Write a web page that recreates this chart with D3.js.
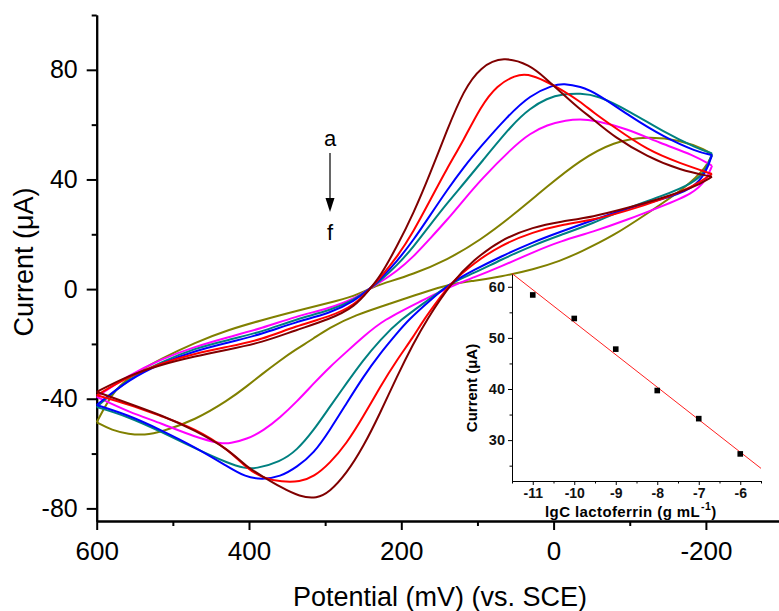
<!DOCTYPE html>
<html>
<head>
<meta charset="utf-8">
<script src="https://cdn.jsdelivr.net/npm/d3@7"></script>
<style>
  body { margin: 0; background: #fff; }
  svg { display: block; font-family: Arial, "Liberation Sans", sans-serif; }
</style>
</head>
<body>
<svg id="chart" width="779" height="611"></svg>
<script>
// CV loops, [potential (mV), current (uA)], anodic branch then back
const curveA = [[600,-37.5],[558,-31.5],[515,-27.5],[471,-24.5],[427,-22],[383,-19.5],[339,-15],[294,-11],[261,-6.5],[241,0.2],[228,4.5],[206,15.4],[184,27.6],[162,42.2],[140,58],[118,72.6],[96,81.1],[66,85],[31,81.8],[11,77],[-9,72],[-35,65.5],[-52,62],[-79,55.6],[-123,48.3],[-166,43.4],[-208,41],
  [-184,37],[-140,33],[-96,29.5],[-52,26.4],[-9,24.6],[26,22.7],[70,18],[105,10.6],[134,2.5],[167,-11.3],[184,-19.8],[206,-32],[228,-45.4],[250,-57.6],[272,-67.3],[294,-74],[311,-76.4],[333,-75.8],[359,-72.2],[381,-68.5],[403,-64.9],[427,-58.5],[471,-51.5],[515,-46],[558,-41.7],[600,-37.5]];
const curveB = [[600,-38.7],[558,-31.8],[515,-27],[471,-23.5],[427,-21],[383,-18.4],[339,-13.5],[294,-10.1],[261,-5.8],[241,0.2],[228,4],[206,11.5],[184,21],[162,32.5],[140,44],[118,54.4],[96,66.5],[74,74.5],[50,78],[35,78.7],[9,75.7],[-9,73],[-35,68.4],[-52,64.5],[-79,59.2],[-123,50.7],[-166,45.9],[-208,42],
  [-184,37.5],[-140,32.5],[-96,28.5],[-52,25.2],[-9,23.4],[26,20.9],[70,16],[105,9.4],[134,2.5],[149,-3],[171,-11.3],[184,-17.4],[206,-25.9],[228,-35.7],[250,-46.6],[272,-56.4],[294,-63.6],[315,-68.5],[333,-70.3],[357,-70.3],[381,-69.1],[403,-65.4],[427,-58.5],[471,-50.8],[515,-46.4],[558,-42],[600,-38.7]];
const curveC = [[600,-42.3],[558,-33],[515,-27],[471,-22.5],[427,-19.5],[383,-16.4],[339,-12],[294,-8.9],[261,-4.3],[241,0.2],[228,3.5],[206,10],[184,17.9],[162,27],[140,36.1],[118,44.5],[96,51.9],[61,62.9],[31,70.8],[0,74.5],[-13,75],[-35,74],[-57,71.4],[-101,62.9],[-144,55.6],[-188,50.1],[-208,48.9],
  [-201,43],[-184,36.5],[-140,32.5],[-96,29.5],[-52,25.2],[-9,20.9],[26,17.3],[70,11.8],[105,6.9],[134,2.5],[162,-4],[191,-11.3],[206,-16.2],[228,-23.5],[250,-32],[272,-41.7],[294,-51.5],[315,-60],[337,-64.9],[359,-68.5],[383,-69.5],[405,-68.5],[427,-64.9],[471,-57.6],[515,-51.5],[558,-46],[600,-42.3]];
const curveD = [[600,-43],[558,-32.6],[515,-26.5],[471,-21.6],[427,-18.5],[383,-15.6],[339,-11],[294,-7.9],[261,-3.8],[241,0.2],[228,3],[206,8.5],[184,15.4],[162,23.5],[140,31.3],[118,38.5],[96,45.9],[53,60.5],[31,65.9],[9,69.6],[-13,71.2],[-35,71.4],[-57,70.8],[-101,64.7],[-144,57.4],[-188,51.4],[-208,49.5],
  [-201,43.5],[-184,38.6],[-140,33.7],[-96,29.5],[-52,24],[-9,19.7],[26,16.1],[70,10.6],[105,5.7],[134,2.5],[162,-3.5],[202,-11.3],[228,-18.6],[250,-25.9],[272,-34.4],[294,-43],[315,-51.5],[337,-58.8],[359,-63],[392,-65.6],[405,-65.4],[427,-63.6],[471,-58.1],[515,-52.1],[558,-46.6],[600,-43]];
const curveE = [[600,-39.3],[558,-31.4],[515,-25.5],[471,-21],[427,-17.5],[383,-14.3],[339,-10],[294,-7],[261,-3.4],[241,0.2],[228,2.5],[206,6.5],[184,11.8],[162,18.5],[140,25.2],[118,32.5],[96,39.8],[53,51.9],[31,56.8],[9,59.9],[-17,61.7],[-35,62],[-52,61.7],[-96,58.6],[-140,53.2],[-184,48.9],[-208,45],
  [-201,40],[-184,34.9],[-140,30],[-96,25.2],[-52,20.9],[-9,17.5],[26,13.6],[70,8.1],[105,4.2],[134,1.2],[175,-4.5],[224,-11.3],[250,-17.4],[272,-22.9],[294,-28.4],[315,-34.4],[337,-41],[359,-46.8],[381,-51.6],[403,-54.8],[425,-56.3],[436,-56.5],[471,-54],[515,-49],[558,-44.8],[600,-39.3]];
const curveF = [[600,-48.6],[580,-38],[558,-32],[515,-25.3],[471,-19.5],[427,-14.8],[383,-11.3],[339,-8],[294,-5],[261,-2.5],[241,0.2],[228,1.7],[184,5.5],[140,10.6],[96,17.9],[53,27],[9,37.3],[-35,47.1],[-79,53.8],[-123,55.8],[-166,54.4],[-201,50.7],[-208,48.9],
  [-201,44.6],[-175,37.3],[-123,27.6],[-79,19.5],[-35,13.5],[-9,10.3],[26,7.2],[70,4.5],[105,3],[134,2],[175,-1.6],[214,-5.2],[261,-9.5],[296,-14.3],[315,-18],[340,-22.3],[359,-26],[383,-31],[403,-35.5],[427,-40.5],[471,-47.8],[515,-52.1],[537,-53.3],[558,-52.9],[580,-51.5],[600,-48.6]];

const curves = [curveF, curveE, curveD, curveC, curveB, curveA];
const curveColors = ["#808000", "#ff00ff", "#008080", "#0000ff", "#ff0000", "#800000"];

const xMajorTicks = [600, 400, 200, 0, -200];
const xMinorTicks = [500, 300, 100, -100];
const yMajorTicks = [80, 40, 0, -40, -80];
const yMinorTicks = [100, 60, 20, -20, -60];

// inset: peak current vs lgC
const lgC = [-11, -10, -9, -8, -7, -6];
const peakCurrent = [58.4, 53.8, 47.8, 39.7, 34.2, 27.3];
const insetXTicks = [-11, -10, -9, -8, -7, -6];
const insetXMinor = [-11.5, -10.5, -9.5, -8.5, -7.5, -6.5, -5.5];
const insetYTicks = [30, 40, 50, 60];
const insetYMinor = [25, 35, 45, 55];

const svg = d3.select("#chart");

const x = d3.scaleLinear().domain([600, -296]).range([96.7, 779]);
const y = d3.scaleLinear().domain([-84.6, 100]).range([521, 15]);

const fmt = d => String(d);

function styleAxis(g, w) {
  g.select(".domain").attr("stroke", "#000").attr("stroke-width", w);
  g.selectAll(".tick line").attr("stroke", "#000").attr("stroke-width", w);
}

// main axes
const gx = svg.append("g").attr("transform", "translate(0,521)")
  .call(d3.axisBottom(x).tickValues(xMajorTicks).tickSize(9).tickSizeOuter(0).tickPadding(12).tickFormat(fmt));
styleAxis(gx, 2);
gx.selectAll("text").attr("font-size", 26).attr("font-family", "Arial, 'Liberation Sans', sans-serif").attr("fill", "#000");
const gxm = svg.append("g").attr("transform", "translate(0,521)")
  .call(d3.axisBottom(x).tickValues(xMinorTicks).tickSize(5).tickSizeOuter(0).tickFormat(""));
styleAxis(gxm, 2);

const gy = svg.append("g").attr("transform", "translate(96.7,0)")
  .call(d3.axisLeft(y).tickValues(yMajorTicks).tickSize(10).tickSizeOuter(0).tickPadding(9).tickFormat(fmt));
styleAxis(gy, 2);
gy.selectAll("text").attr("font-size", 25).attr("font-family", "Arial, 'Liberation Sans', sans-serif").attr("fill", "#000");
const gym = svg.append("g").attr("transform", "translate(96.7,0)")
  .call(d3.axisLeft(y).tickValues(yMinorTicks).tickSize(5).tickSizeOuter(0).tickFormat(""));
styleAxis(gym, 2);

svg.append("text").attr("transform", "translate(33,262) rotate(-90)")
  .attr("text-anchor", "middle").attr("font-size", 27).text("Current (μA)");
svg.append("text").attr("x", 440).attr("y", 606)
  .attr("text-anchor", "middle").attr("font-size", 27).text("Potential (mV) (vs. SCE)");

// CV curves: each sweep direction drawn as its own smooth branch
const line = d3.line()
  .x(d => x(d[0])).y(d => y(d[1]))
  .curve(d3.curveBasis);

function loopPath(pts) {
  const k = d3.minIndex(pts, d => d[0]);
  return line(pts.slice(0, k + 1)) + line(pts.slice(k));
}

svg.append("g").selectAll("path")
  .data(curves)
  .enter().append("path")
  .attr("d", loopPath)
  .attr("fill", "none")
  .attr("stroke", (d, i) => curveColors[i])
  .attr("stroke-width", 2)
  .attr("stroke-linejoin", "round");

// a -> f arrow
svg.append("text").attr("x", 330).attr("y", 146).attr("text-anchor", "middle").attr("font-size", 22).text("a");
svg.append("line").attr("x1", 330).attr("x2", 330).attr("y1", 153).attr("y2", 200)
  .attr("stroke", "#000").attr("stroke-width", 1.2);
svg.append("path").attr("d", "M325.5,198L334.5,198L330,212Z").attr("fill", "#000");
svg.append("text").attr("x", 330).attr("y", 240).attr("text-anchor", "middle").attr("font-size", 22).text("f");

// inset
const ix = d3.scaleLinear().domain([-11.5, -5.5]).range([512, 761]);
const iy = d3.scaleLinear().domain([22, 62.5]).range([481, 274]);
const inset = svg.append("g");

const igx = inset.append("g").attr("transform", "translate(0,481)")
  .call(d3.axisBottom(ix).tickValues(insetXTicks).tickSize(4).tickSizeOuter(0).tickPadding(3).tickFormat(fmt));
styleAxis(igx, 1);
igx.select(".domain").attr("stroke", "#333");
igx.selectAll("text").attr("font-size", 14).attr("font-weight", "bold")
  .attr("font-family", "Arial, 'Liberation Sans', sans-serif").attr("fill", "#111");
const igxm = inset.append("g").attr("transform", "translate(0,481)")
  .call(d3.axisBottom(ix).tickValues(insetXMinor).tickSize(2.5).tickSizeOuter(0).tickFormat(""));
styleAxis(igxm, 1);

const igy = inset.append("g").attr("transform", "translate(512,0)")
  .call(d3.axisLeft(iy).tickValues(insetYTicks).tickSize(4).tickSizeOuter(0).tickPadding(3).tickFormat(fmt));
styleAxis(igy, 1);
igy.select(".domain").attr("stroke", "#333");
igy.selectAll("text").attr("font-size", 14.5).attr("font-weight", "bold")
  .attr("font-family", "Arial, 'Liberation Sans', sans-serif").attr("fill", "#111");
const igym = inset.append("g").attr("transform", "translate(512,0)")
  .call(d3.axisLeft(iy).tickValues(insetYMinor).tickSize(2.5).tickSizeOuter(0).tickFormat(""));
styleAxis(igym, 1);

// least-squares fit of the inset points
const mx = d3.mean(lgC), my = d3.mean(peakCurrent);
const slope = d3.sum(lgC, (v, i) => (v - mx) * (peakCurrent[i] - my)) / d3.sum(lgC, v => (v - mx) * (v - mx));
const fit = ix.domain().map(v => [v, my + slope * (v - mx)]);
inset.append("path")
  .attr("d", d3.line().x(d => ix(d[0])).y(d => iy(d[1]))(fit))
  .attr("fill", "none").attr("stroke", "#ff2020").attr("stroke-width", 1);

inset.selectAll("rect.pt")
  .data(lgC)
  .enter().append("rect")
  .attr("class", "pt")
  .attr("x", d => ix(d) - 2.8)
  .attr("y", (d, i) => iy(peakCurrent[i]) - 2.8)
  .attr("width", 5.6).attr("height", 5.6)
  .attr("fill", "#000");

inset.append("text").attr("transform", "translate(477,388) rotate(-90)")
  .attr("text-anchor", "middle").attr("font-size", 15).attr("font-weight", "bold")
  .text("Current (μA)");
const xl = inset.append("text").attr("x", 545).attr("y", 517)
  .attr("font-size", 15).attr("font-weight", "bold").attr("letter-spacing", 0.4);
xl.append("tspan").text("lgC lactoferrin (g mL");
xl.append("tspan").attr("dx", 1).attr("dy", -7).attr("font-size", 10.5).text("-1");
xl.append("tspan").attr("dy", 7).text(")");
</script>
</body>
</html>
